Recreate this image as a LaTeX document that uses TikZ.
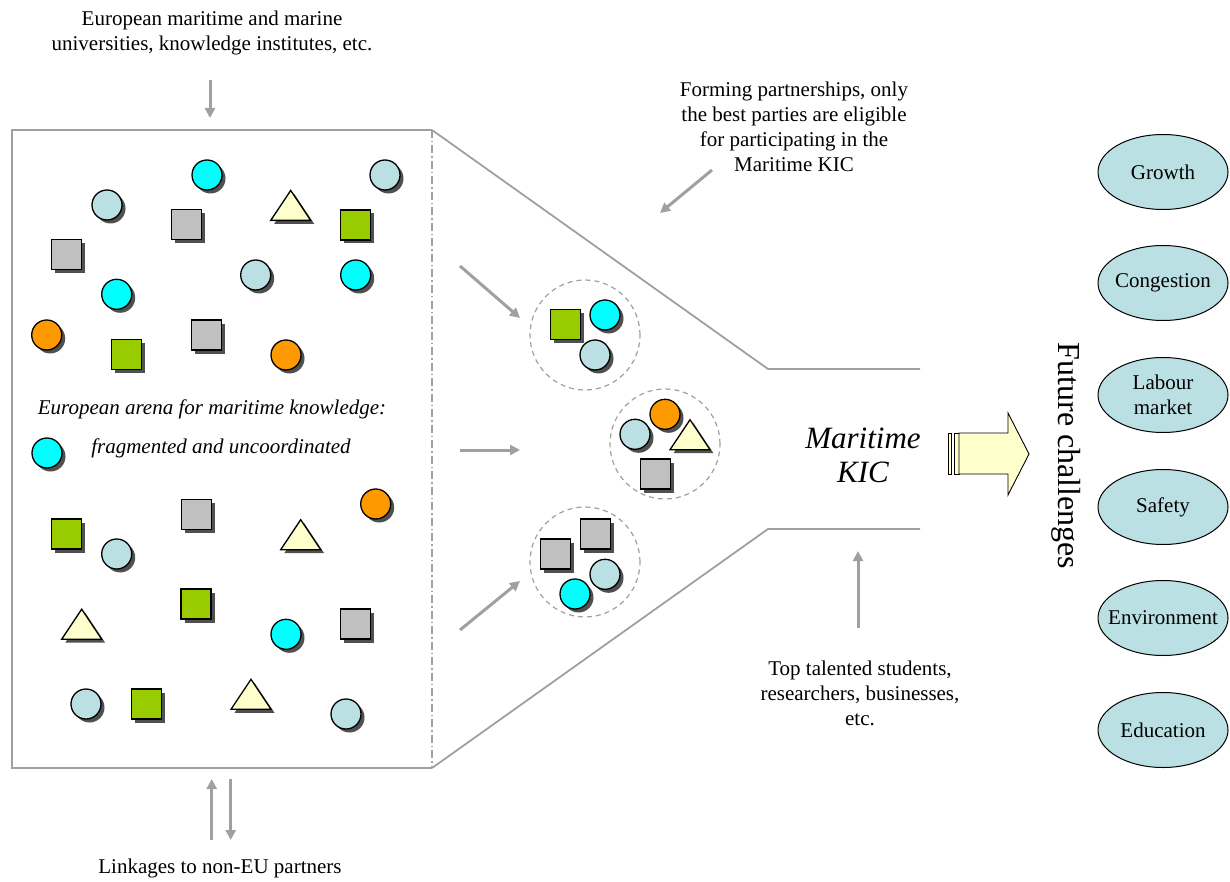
\documentclass[tikz,border=0pt]{standalone}
\usepackage{fontspec}
\setmainfont{Liberation Serif}
\usetikzlibrary{shapes.geometric,shadows,arrows.meta}

\definecolor{aqua}{HTML}{00FFFF}
\definecolor{paleblue}{HTML}{BBE0E3}
\definecolor{silver}{HTML}{C0C0C0}
\definecolor{lime}{HTML}{99CC00}
\definecolor{amber}{HTML}{FF9900}
\definecolor{cream}{HTML}{FFFFCC}
\definecolor{linegray}{HTML}{A0A0A0}
\definecolor{shade}{HTML}{505050}

\tikzset{
  x=1pt, y=-1pt,
  txt/.style={font=\fontsize{21}{25}\selectfont, align=center, inner sep=0pt},
  itxt/.style={txt, font=\fontsize{21}{25}\selectfont\itshape},
  token/.style={draw=black, line width=1.3pt, inner sep=0pt,
    drop shadow={shadow xshift=3.5pt, shadow yshift=-3.5pt, fill=shade, opacity=1}},
  ball/.style={token, circle, minimum size=30pt, fill=#1},
  box/.style={token, rectangle, minimum size=30pt, fill=#1},
  tri/.pic={\path[token, fill=cream, line join=miter] (-20,15) -- (0,-15) -- (20,15) -- cycle;},
  cluster/.style={circle, draw=linegray, line width=1.2pt, dash pattern=on 5pt off 4pt, minimum size=110pt, inner sep=0pt},
  frame/.style={draw=linegray, line width=1.8pt},
  garrow/.style={draw=linegray, line width=3pt, -{Triangle[length=10pt,width=10pt]}},
  goal/.style={txt, ellipse, draw=black, line width=1pt, fill=paleblue, minimum width=130pt, minimum height=75pt, inner xsep=-14pt, inner ysep=-4pt},
}

\begin{document}
\begin{tikzpicture}
\useasboundingbox (0,0) rectangle (1230,882);

% knowledge arena frame and funnel
\coordinate (a-nw) at (12,130);
\coordinate (a-ne) at (432,130);
\coordinate (a-sw) at (12,768);
\coordinate (a-se) at (432,768);
\coordinate (n-top) at (768,369);
\coordinate (n-top-end) at (920,369);
\coordinate (n-bot) at (768,529);
\coordinate (n-bot-end) at (920,529);
\draw[frame] (a-ne) -- (a-nw) -- (a-sw) -- (a-se);
\draw[draw=linegray, line width=1.2pt, dash pattern=on 8pt off 3pt on 1.5pt off 3pt] (a-ne) -- (a-se);
\draw[frame] (a-ne) -- (n-top) -- (n-top-end);
\draw[frame] (a-se) -- (n-bot) -- (n-bot-end);

% scattered parties, upper half
\node[ball=paleblue] (p1) at (107,205) {};
\node[ball=aqua] (p2) at (207,175) {};
\node[ball=paleblue] (p3) at (385,175) {};
\node[box=silver] (p4) at (186.5,224.5) {};
\pic (p5) at (290.7,205.4) {tri};
\node[box=lime] (p6) at (355.7,225) {};
\node[box=silver] (p7) at (66.7,254.7) {};
\node[ball=paleblue] (p8) at (255.7,275) {};
\node[ball=aqua] (p9) at (355.7,275) {};
\node[ball=aqua] (p10) at (116.7,294.3) {};
\node[ball=amber] (p11) at (46.7,335) {};
\node[box=lime] (p12) at (126.7,354.5) {};
\node[box=silver] (p13) at (206.7,335) {};
\node[ball=amber] (p14) at (286,355) {};
\node[ball=aqua] (p15) at (47,453) {};

% scattered parties, lower half
\node[box=lime] (q1) at (66.7,534) {};
\node[ball=paleblue] (q2) at (116.7,554) {};
\node[box=silver] (q3) at (196.3,514.5) {};
\pic (q4) at (300.7,534.7) {tri};
\node[ball=amber] (q5) at (375.7,504) {};
\node[box=lime] (q6) at (196,604) {};
\pic (q7) at (81.7,624.2) {tri};
\node[ball=aqua] (q8) at (286,634.3) {};
\node[box=silver] (q9) at (355.7,624) {};
\node[ball=paleblue] (q10) at (86,704) {};
\node[box=lime] (q11) at (146.3,704) {};
\pic (q12) at (251,694.3) {tri};
\node[ball=paleblue] (q13) at (346,714) {};

% arena caption
\node[itxt] (arena1) at (212,409) {European arena for maritime knowledge:};
\node[itxt] (arena2) at (221,448) {fragmented and uncoordinated};

% partnerships
\node[cluster] (c1) at (585,335) {};
\node[box=lime] (c1a) at (565.3,324.5) {};
\node[ball=aqua] (c1b) at (605,315) {};
\node[ball=paleblue] (c1c) at (595,355) {};

\node[cluster] (c2) at (665,444) {};
\node[ball=paleblue] (c2a) at (635,434.3) {};
\node[ball=amber] (c2b) at (665,414.3) {};
\pic (c2c) at (690,434.7) {tri};
\node[box=silver] (c2d) at (655.3,474) {};

\node[cluster] (c3) at (585,562) {};
\node[box=silver] (c3a) at (595.3,534) {};
\node[box=silver] (c3b) at (555.7,554) {};
\node[ball=paleblue] (c3c) at (605,574.3) {};
\node[ball=aqua] (c3d) at (575,594) {};

% arrows into the funnel
\coordinate (f1s) at (460,266); \coordinate (f1e) at (520,318);
\coordinate (f2s) at (460,450); \coordinate (f2e) at (520,450);
\coordinate (f3s) at (460,630); \coordinate (f3e) at (520,581);
\draw[garrow] (f1s) -- (f1e);
\draw[garrow] (f2s) -- (f2e);
\draw[garrow] (f3s) -- (f3e);

% texts with their arrows
\node[txt] (unis) at (212,33) {European maritime and marine\\universities, knowledge institutes, etc.};
\coordinate (u-s) at (210,80); \coordinate (u-e) at (210,118);
\draw[garrow] (u-s) -- (u-e);

\node[txt] (forming) at (794,127) {Forming partnerships, only\\the best parties are eligible\\for participating in the\\Maritime KIC};
\coordinate (fp-s) at (712,170); \coordinate (fp-e) at (660,213);
\draw[garrow] (fp-s) -- (fp-e);

\node[txt] (talent) at (860,693) {Top talented students,\\researchers, businesses,\\etc.};
\coordinate (t-s) at (858,628); \coordinate (t-e) at (858,551);
\draw[garrow] (t-s) -- (t-e);

\node[txt] (links) at (220,868) {Linkages to non-EU partners};
\coordinate (l-up-s) at (211.7,840); \coordinate (l-up-e) at (211.7,779);
\coordinate (l-dn-s) at (230.7,779); \coordinate (l-dn-e) at (230.7,840);
\draw[garrow] (l-up-s) -- (l-up-e);
\draw[garrow] (l-dn-s) -- (l-dn-e);

% the KIC and its outcome
\node[txt, font=\fontsize{31}{34}\selectfont\itshape] (kic) at (863,455) {Maritime\\KIC};

\coordinate (ba-a) at (959,433);
\coordinate (ba-b) at (1008,433);
\coordinate (ba-c) at (1008,413);
\coordinate (ba-tip) at (1029,454);
\coordinate (ba-d) at (1008,495);
\coordinate (ba-e) at (1008,474);
\coordinate (ba-f) at (959,474);
\draw[fill=cream, line width=0.9pt] (948.3,433) rectangle (951.7,474);
\draw[fill=cream, line width=0.9pt] (954,433) rectangle (959,474);
\draw[fill=cream, line width=0.9pt, line join=miter] (ba-a) -- (ba-b) -- (ba-c) -- (ba-tip) -- (ba-d) -- (ba-e) -- (ba-f) -- cycle;

\node[txt, font=\fontsize{32}{36}\selectfont, rotate=-90] (future) at (1066,456) {Future challenges};

\node[goal] (growth) at (1163,172) {Growth};
\node[goal] (congestion) at (1163,283) {Congestion};
\node[goal] (labour) at (1163,395) {Labour\\market};
\node[goal] (safety) at (1163,507) {Safety};
\node[goal] (environment) at (1163,618) {Environment};
\node[goal] (education) at (1163,730) {Education};
\end{tikzpicture}
\end{document}
